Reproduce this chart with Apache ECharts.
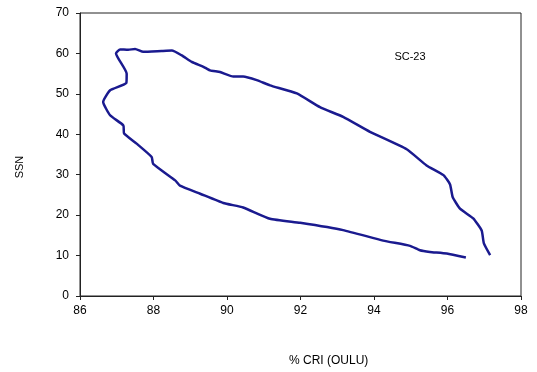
<!DOCTYPE html>
<html>
<head>
<meta charset="utf-8">
<script src="https://cdn.jsdelivr.net/npm/echarts@6/dist/echarts.min.js"></script>
<style>
  html, body { margin: 0; padding: 0; background: #fff; }
  #chart { width: 537px; height: 372px; }
</style>
</head>
<body>
<div id="chart"></div>
<script>
// %CRI (Oulu) vs sunspot number, cycle 23
const cri = [96.50, 95.98, 95.52, 95.25, 94.98, 94.25, 93.16, 91.99, 91.17, 90.44, 89.90, 89.27, 88.72, 88.59, 87.99, 87.95, 87.54, 87.20, 87.18, 86.82, 86.63, 86.82, 87.26, 87.27, 86.98, 87.09, 87.31, 87.50, 87.72, 88.22, 88.50, 88.77, 89.04, 89.36, 89.54, 89.81, 90.17, 90.44, 90.81, 91.17, 91.90, 92.53, 93.16, 93.89, 94.89, 95.43, 95.89, 96.07, 96.14, 96.34, 96.70, 96.93, 96.99, 97.16]
const ssn = [9.5, 10.5, 10.9, 11.3, 12.4, 13.7, 16.3, 18.1, 19.1, 21.9, 23.0, 25.3, 27.3, 28.6, 32.7, 34.4, 37.7, 40.2, 42.2, 44.7, 48.0, 50.9, 52.7, 55.0, 60.0, 61.0, 60.9, 61.1, 60.4, 60.6, 60.7, 59.5, 57.9, 56.7, 55.8, 55.4, 54.3, 54.3, 53.4, 52.1, 50.1, 46.7, 44.3, 40.6, 36.3, 32.3, 29.9, 27.6, 24.5, 21.6, 19.2, 16.2, 13.0, 10.1]
const xTicks = [86, 88, 90, 92, 94, 96, 98]
const yTicks = [0, 10, 20, 30, 40, 50, 60, 70]

const chart = echarts.init(document.getElementById('chart'))
const font = 'Liberation Sans, Arial, sans-serif'
const axisColor = '#222'

chart.setOption({
  animation: false,
  grid: {
    left: 80,
    right: 16,
    top: 13,
    bottom: 76,
    show: true,
    borderColor: axisColor,
    borderWidth: 1
  },
  xAxis: {
    type: 'value',
    min: xTicks[0],
    max: xTicks[xTicks.length - 1],
    interval: 2,
    splitLine: { show: false },
    axisLine: { show: true, lineStyle: { color: axisColor, width: 1 } },
    axisTick: { show: true, length: 4, lineStyle: { color: axisColor } },
    axisLabel: { color: '#000', fontSize: 12, fontFamily: font, margin: 9 }
  },
  yAxis: {
    type: 'value',
    min: yTicks[0],
    max: yTicks[yTicks.length - 1],
    interval: 10,
    splitLine: { show: false },
    axisLine: { show: true, lineStyle: { color: axisColor, width: 1 } },
    axisTick: { show: true, length: 4, lineStyle: { color: axisColor } },
    axisLabel: { color: '#000', fontSize: 12, fontFamily: font, margin: 11 }
  },
  graphic: [
    {
      type: 'text',
      left: 289,
      top: 355,
      style: { text: '% CRI (OULU)', fill: '#000', font: '12px ' + font }
    },
    {
      type: 'text',
      x: 20,
      y: 167,
      rotation: Math.PI / 2,
      style: { text: 'SSN', fill: '#000', font: '11px ' + font, align: 'center', verticalAlign: 'middle' }
    },
    {
      type: 'text',
      x: 410,
      y: 57,
      style: { text: 'SC-23', fill: '#000', font: '11px ' + font, align: 'center', verticalAlign: 'middle' }
    }
  ],
  series: [
    {
      type: 'line',
      data: cri.map((v, i) => [v, ssn[i]]),
      showSymbol: false,
      smooth: 0.15,
      lineStyle: { color: '#1a1a8f', width: 2.5 }
    }
  ]
})
</script>
</body>
</html>
